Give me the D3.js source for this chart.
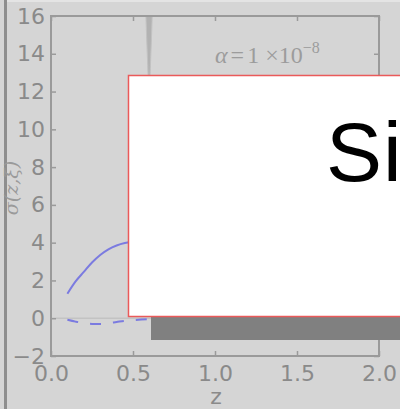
<!DOCTYPE html>
<html>
<head>
<meta charset="utf-8">
<script src="https://cdn.jsdelivr.net/npm/d3@7"></script>
<style>
  html, body { margin: 0; padding: 0; background: #d5d5d5; }
  svg { display: block; }
</style>
</head>
<body>
<svg id="chart" width="400" height="409"></svg>
<script>
// redshift samples and the two curves
const zSolid   = [0.10, 0.15, 0.20, 0.25, 0.30, 0.35, 0.40, 0.45, 0.50, 0.55];
const sigSolid = [1.30, 1.95, 2.45, 2.95, 3.35, 3.65, 3.85, 3.98, 4.05, 4.10];
const zDashed   = [0.10, 0.15, 0.20, 0.25, 0.30, 0.35, 0.40, 0.45, 0.50, 0.55, 0.60];
const sigDashed = [-0.08, -0.18, -0.26, -0.30, -0.30, -0.26, -0.20, -0.14, -0.10, -0.07, -0.05];
// narrow divergence near z ~ 0.6
const zSpike   = [0.575, 0.588, 0.598, 0.608, 0.621];
const sigSpike = [17.0, 13.8, 12.0, 13.8, 17.0];
// axis ticks
const xTicks = [0.0, 0.5, 1.0, 1.5, 2.0];
const yTicks = [-2, 0, 2, 4, 6, 8, 10, 12, 14, 16];
const annotation = { base: "1 ×10", exp: "−8" };
const dialogText = "Sig";

const svg = d3.select("#chart");
const W = 400, H = 409;

svg.append("rect").attr("width", W).attr("height", H).attr("fill", "#d5d5d5");
svg.append("rect").attr("x", 7).attr("y", 0).attr("width", W - 7).attr("height", 2).attr("fill", "#e4e4e4");
svg.append("rect").attr("x", 4).attr("y", 0).attr("width", 3).attr("height", H).attr("fill", "#8e8e8e");

const x = d3.scaleLinear().domain([0, 2]).range([51, 379]);
const y = d3.scaleLinear().domain([-2, 16]).range([356, 16]);

const plot = svg.append("g");
plot.append("clipPath").attr("id", "plotclip")
  .append("rect").attr("x", 51).attr("y", 16).attr("width", 328).attr("height", 340);

const inner = plot.append("g").attr("clip-path", "url(#plotclip)");

// zero reference line
inner.append("line")
  .attr("x1", x(0)).attr("x2", x(2))
  .attr("y1", y(0)).attr("y2", y(0))
  .attr("stroke", "#c3c3c3").attr("stroke-width", 1.5);

// divergent spike
const spikeArea = d3.area()
  .x((d, i) => x(zSpike[i]))
  .y0(() => y(17))
  .y1((d) => y(d))
  .curve(d3.curveMonotoneX);
inner.append("path")
  .datum(sigSpike)
  .attr("d", spikeArea)
  .attr("fill", "#b2b2b2")
  .attr("stroke", "#c2c2c2").attr("stroke-width", 1);

const line = d3.line().curve(d3.curveMonotoneX);
inner.append("path")
  .attr("d", line(zSolid.map((z, i) => [x(z), y(sigSolid[i])])))
  .attr("fill", "none").attr("stroke", "#7b7be0").attr("stroke-width", 2);
inner.append("path")
  .attr("d", line(zDashed.map((z, i) => [x(z), y(sigDashed[i])])))
  .attr("fill", "none").attr("stroke", "#7b7be0").attr("stroke-width", 2)
  .attr("stroke-dasharray", "11,12");

// axes with inward ticks
const tickColor = "#9a9a9a", labelColor = "#8a8a8a";
function styleAxis(g) {
  g.select(".domain").remove();
  g.selectAll(".tick line").attr("stroke", tickColor).attr("stroke-width", 1.5);
  g.selectAll(".tick text").attr("fill", labelColor)
    .attr("font-family", "DejaVu Sans").attr("font-size", 22);
}
plot.append("g").attr("transform", "translate(51,0)")
  .call(d3.axisLeft(y).tickValues(yTicks).tickSizeInner(-5).tickSizeOuter(0).tickPadding(6).tickFormat(d3.format("d")))
  .call(styleAxis);
plot.append("g").attr("transform", "translate(379,0)")
  .call(d3.axisRight(y).tickValues(yTicks).tickSizeInner(-5).tickSizeOuter(0).tickFormat(""))
  .call(styleAxis);
plot.append("g").attr("transform", "translate(0,356)")
  .call(d3.axisBottom(x).tickValues(xTicks).tickSizeInner(-5).tickSizeOuter(0).tickPadding(9).tickFormat(d3.format(".1f")))
  .call(styleAxis);
plot.append("g").attr("transform", "translate(0,16)")
  .call(d3.axisTop(x).tickValues(xTicks).tickSizeInner(-5).tickSizeOuter(0).tickFormat(""))
  .call(styleAxis);

// frame
plot.append("rect")
  .attr("x", 51).attr("y", 16).attr("width", 328).attr("height", 340)
  .attr("fill", "none").attr("stroke", tickColor).attr("stroke-width", 2);

// axis titles
svg.append("text")
  .attr("x", 216).attr("y", 404)
  .attr("text-anchor", "middle")
  .attr("font-family", "DejaVu Sans").attr("font-size", 22)
  .attr("fill", labelColor).text("z");
svg.append("text")
  .attr("transform", "translate(18,188) rotate(-90)")
  .attr("text-anchor", "middle")
  .attr("font-family", "DejaVu Serif").attr("font-style", "italic").attr("font-size", 19)
  .attr("fill", "#9a9a9a").text("σ(z,ξ)");

// parameter annotation
const ann = svg.append("text")
  .attr("x", 215).attr("y", 63)
  .attr("font-family", "Liberation Serif").attr("font-size", 24)
  .attr("fill", "#9c9c9c");
ann.append("tspan").attr("font-style", "italic").text("α");
ann.append("tspan").attr("dx", 3).text("=");
ann.append("tspan").attr("dx", 3).text(annotation.base);
ann.append("tspan").attr("dy", -10).attr("font-size", 16).text(annotation.exp);

// dialog with drop shadow
svg.append("rect")
  .attr("x", 151).attr("y", 98).attr("width", 300).attr("height", 242)
  .attr("fill", "#808080");
svg.append("rect")
  .attr("x", 128.5).attr("y", 75.5).attr("width", 300).attr("height", 241)
  .attr("fill", "#ffffff").attr("stroke", "#ea5a5a").attr("stroke-width", 1.5);
svg.append("text")
  .attr("x", 326).attr("y", 181)
  .attr("font-family", "Liberation Sans").attr("font-size", 84)
  .attr("letter-spacing", 1)
  .attr("fill", "#000000").text(dialogText);
</script>
</body>
</html>
